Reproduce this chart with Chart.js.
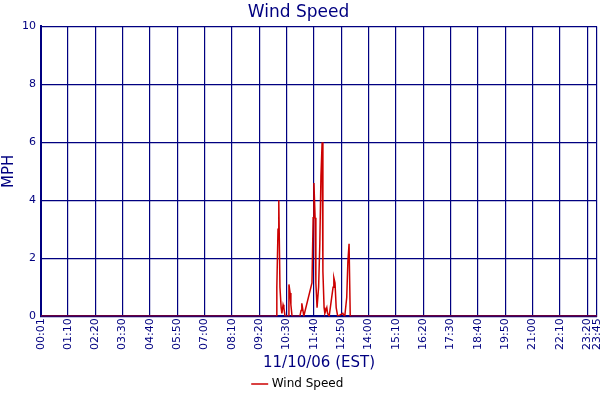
<!DOCTYPE html>
<html><head><meta charset="utf-8">
<script src="https://cdn.jsdelivr.net/npm/chart.js@4"></script>
<style>html,body{margin:0;padding:0;background:#fff}#w{width:600px;height:400px}</style>
</head><body><div id="w"><canvas id="c" width="600" height="400"></canvas></div>
<script>
const tickLabels=["00:01","01:10","02:20","03:30","04:40","05:50","07:00","08:10","09:20","10:30","11:40","12:50","14:00","15:10","16:20","17:30","18:40","19:50","21:00","22:10","23:20","23:45"];
const times=[1,603,605,608,610,613,616,618,621,623,626,634,636,639,641,644,664,667,669,672,674,695,698,700,703,705,708,712,715,718,721,723,726,728,733,735,739,749,751,754,757,761,774,776,779,784,787,790,793,1425];
const speeds=[0,0,1.0,3.0,4.0,1.0,0.3,0.1,0.4,0.3,0,0,1.1,0.8,0.4,0,0,0.2,0.45,0.2,0,1.15,3.4,4.6,3.4,1.15,0.3,1.0,2.45,4.85,6.0,1.55,0.3,0.1,0.3,0.1,0,1.0,1.33,1.15,0.3,0,0.1,0.05,0,0.65,1.9,2.5,0,0];
const toMin=s=>{const [h,m]=s.split(':').map(Number);return h*60+m;};
const tickPos=tickLabels.map(toMin);
const navy='#000080';
Chart.defaults.font.family='"DejaVu Sans"';
new Chart(document.getElementById('c'),{
type:'line',
data:{datasets:[{label:'Wind Speed',data:times.map((t,i)=>({x:t,y:speeds[i]})),borderColor:'#cc0000',backgroundColor:'#cc0000',borderWidth:1.5,pointRadius:0,tension:0}]},
options:{responsive:false,animation:false,
layout:{padding:{left:0,right:3,top:0,bottom:0}},
plugins:{title:{display:true,text:'Wind Speed',color:navy,font:{size:17,weight:'normal'},padding:{top:2,bottom:4}},
legend:{position:'bottom',labels:{usePointStyle:true,pointStyle:'line',color:'#000',font:{size:12},boxWidth:14,padding:2}},tooltip:{enabled:false}},
scales:{
x:{type:'linear',min:1,max:1425,
afterBuildTicks:a=>{a.ticks=tickPos.map(v=>({value:v}));},
afterFit:s=>{s.paddingRight=0;s.paddingLeft=0;},
ticks:{autoSkip:false,maxRotation:90,minRotation:90,color:navy,font:{size:11},padding:2,callback:(v)=>{const i=tickPos.indexOf(v);return i>=0?tickLabels[i]:'';}},
grid:{color:navy,lineWidth:1.2,drawTicks:false},border:{color:navy,width:2},
title:{display:true,text:'11/10/06 (EST)',color:navy,font:{size:15},padding:{top:2,bottom:4}}},
y:{min:0,max:10,afterFit:s=>{s.width=41;},ticks:{stepSize:2,color:navy,font:{size:11},padding:5},
grid:{color:navy,lineWidth:1.2,drawTicks:false},border:{color:navy,width:2},
title:{display:true,text:'MPH',color:navy,font:{size:15},padding:{top:0,bottom:0}}}
}}});
</script></body></html>
